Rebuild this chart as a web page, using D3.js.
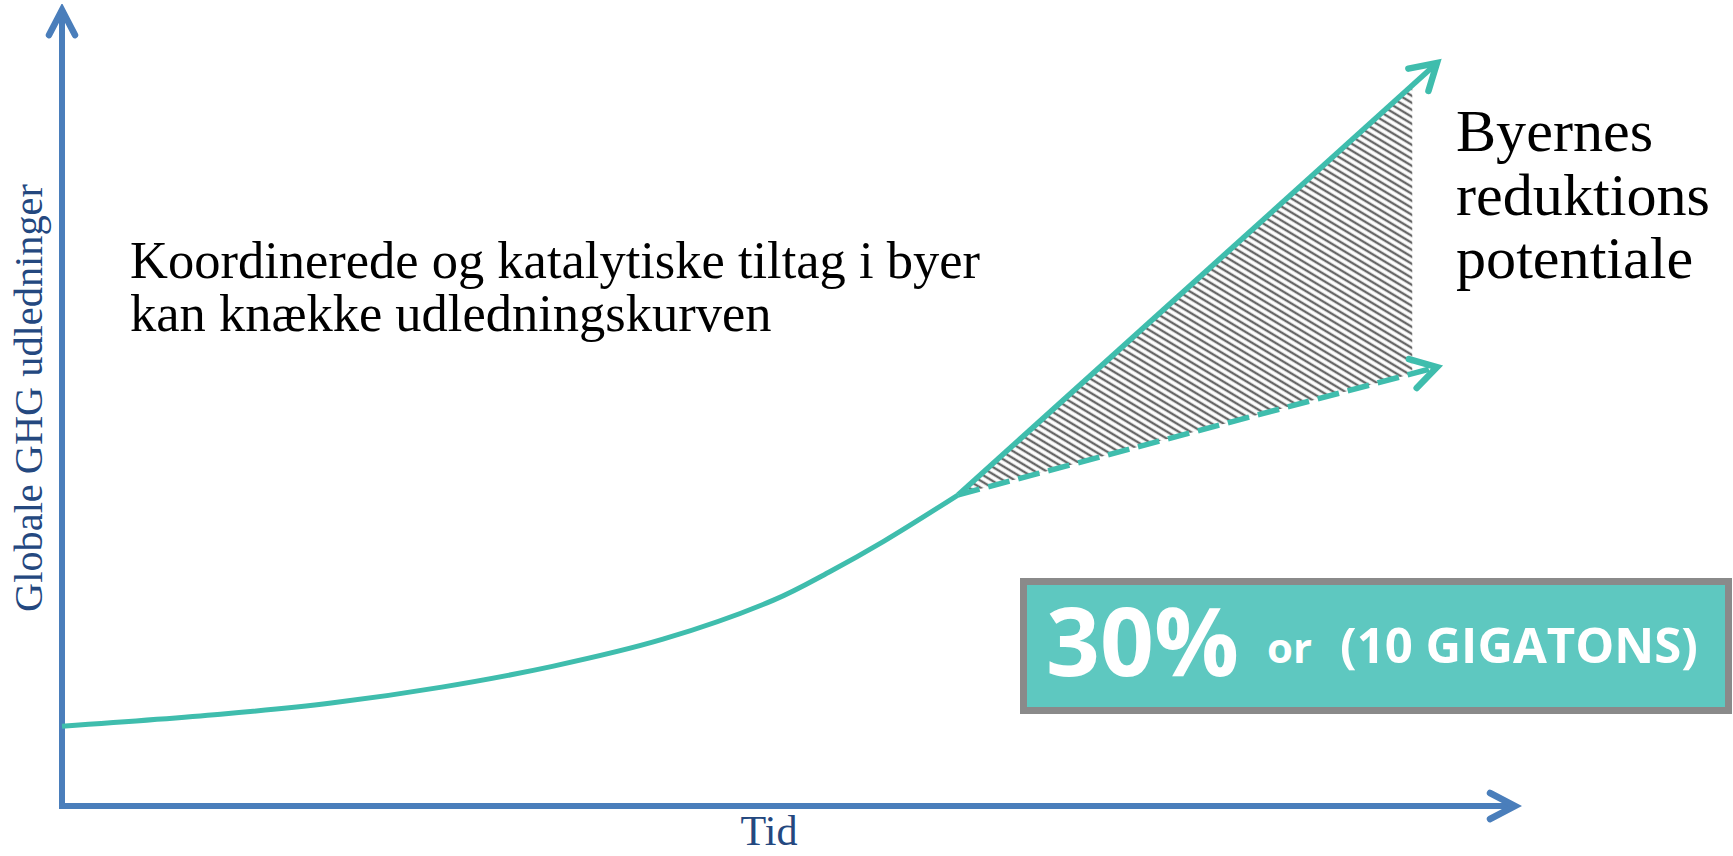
<!DOCTYPE html>
<html>
<head>
<meta charset="utf-8">
<script src="https://cdn.jsdelivr.net/npm/d3@7/dist/d3.min.js"></script>
<style>
  html, body { margin: 0; padding: 0; background: #fff; }
  svg { display: block; }
</style>
</head>
<body>
<svg id="chart" width="1733" height="856"></svg>
<script>
// ---- data (time index 0-100, emission index 0-100) ----
const curveTime      = [0, 10.9, 18.5, 26.1, 33.7, 41.3, 48.9, 52.7, 56.5, 61.6];
const curveEmission  = [10.0, 11.5, 12.9, 14.9, 17.5, 20.9, 25.8, 29.3, 33.2, 39.0];
const bauTime        = [61.6, 94.5];
const bauEmission    = [39.0, 93.1];
const reducedTime    = [61.6, 94.5];
const reducedEmission= [39.0, 55.0];
const hatchEndTime   = 92.8;

const titleLines  = ["Koordinerede og katalytiske tiltag i byer", "kan knække udledningskurven"];
const sideLines   = ["Byernes", "reduktions", "potentiale"];
const yLabel = "Globale GHG udledninger";
const xLabel = "Tid";
const boxBig = "30%", boxOr = "or", boxRest = "(10 GIGATONS)";

// ---- layout ----
const W = 1733, H = 856;
const x0 = 62, x1 = 1517, y0 = 806, y1 = 8;
const AXIS = "#4a7ebb", TEAL = "#3fbdad", LABEL = "#24487f";

const svg = d3.select("#chart");
const x = d3.scaleLinear().domain([0, 100]).range([x0, x1]);
const y = d3.scaleLinear().domain([0, 100]).range([y0, y1]);

const defs = svg.append("defs");
const pat = defs.append("pattern").attr("id", "hatch")
  .attr("patternUnits", "userSpaceOnUse").attr("width", 12).attr("height", 6)
  .attr("patternTransform", "rotate(31)");
pat.append("rect").attr("width", 12).attr("height", 6).attr("fill", "#fff");
pat.append("line").attr("x1", 0).attr("x2", 12).attr("y1", 3).attr("y2", 3)
  .attr("stroke", "#676767").attr("stroke-width", 2.4);

function chevron(id, color, len, half, sw) {
  const m = defs.append("marker").attr("id", id)
    .attr("markerUnits", "userSpaceOnUse")
    .attr("viewBox", `${-len - sw} ${-half - sw} ${len + 2 * sw} ${2 * half + 2 * sw}`)
    .attr("refX", 0).attr("refY", 0)
    .attr("markerWidth", len + 2 * sw).attr("markerHeight", 2 * half + 2 * sw)
    .attr("orient", "auto");
  m.append("path").attr("d", `M${-len},${-half} L0,0 L${-len},${half}`)
    .attr("fill", "none").attr("stroke", color).attr("stroke-width", sw)
    .attr("stroke-linecap", "round").attr("stroke-linejoin", "miter");
}
chevron("arrBlue", AXIS, 25, 13, 6.5);
chevron("arrTeal", TEAL, 25, 15, 6.5);

// ---- hatch area between scenarios ----
const bauAt = t => bauEmission[0] + (t - bauTime[0]) * (bauEmission[1] - bauEmission[0]) / (bauTime[1] - bauTime[0]);
const redAt = t => reducedEmission[0] + (t - reducedTime[0]) * (reducedEmission[1] - reducedEmission[0]) / (reducedTime[1] - reducedTime[0]);
const areaPts = [bauTime[0], hatchEndTime].map(t => ({ t, hi: bauAt(t), lo: redAt(t) }));
svg.append("path").datum(areaPts)
  .attr("d", d3.area().x(d => x(d.t)).y0(d => y(d.lo)).y1(d => y(d.hi)))
  .attr("fill", "url(#hatch)");

// ---- axes ----
svg.append("line").attr("x1", x0).attr("x2", x0).attr("y1", y0 + 3).attr("y2", y1 + 2)
  .attr("stroke", AXIS).attr("stroke-width", 6).attr("marker-end", "url(#arrBlue)");
svg.append("line").attr("x1", x0 - 3).attr("x2", x1 - 2).attr("y1", y0).attr("y2", y0)
  .attr("stroke", AXIS).attr("stroke-width", 6).attr("marker-end", "url(#arrBlue)");

// ---- emission curve ----
const curvePts = curveTime.map((t, i) => [t, curveEmission[i]]);
svg.append("path").datum(curvePts)
  .attr("d", d3.line().x(d => x(d[0])).y(d => y(d[1])).curve(d3.curveCatmullRom.alpha(0.5)))
  .attr("fill", "none").attr("stroke", TEAL).attr("stroke-width", 5);

// ---- scenario lines ----
const seg = (ts, es) => ts.map((t, i) => [t, es[i]]);
svg.append("path").datum(seg(reducedTime, reducedEmission))
  .attr("d", d3.line().x(d => x(d[0])).y(d => y(d[1])))
  .attr("fill", "none").attr("stroke", TEAL).attr("stroke-width", 5.5)
  .attr("stroke-dasharray", "22 9").attr("marker-end", "url(#arrTeal)");
svg.append("path").datum(seg(bauTime, bauEmission))
  .attr("d", d3.line().x(d => x(d[0])).y(d => y(d[1])))
  .attr("fill", "none").attr("stroke", TEAL).attr("stroke-width", 5.5)
  .attr("marker-end", "url(#arrTeal)");

// ---- helper: fit text to a target width ----
function fit(sel, target) {
  const w = sel.node().getComputedTextLength();
  const fs = parseFloat(sel.attr("font-size"));
  sel.attr("font-size", fs * target / w);
  return sel;
}

const SERIF = "'Liberation Serif', 'DejaVu Serif', serif";

// title
const t1 = svg.append("text").attr("x", 130).attr("y", 278).attr("font-family", SERIF)
  .attr("font-size", 46).attr("fill", "#000").text(titleLines[0]);
fit(t1, 850);
svg.append("text").attr("x", 130).attr("y", 331).attr("font-family", SERIF)
  .attr("font-size", t1.attr("font-size")).attr("fill", "#000").text(titleLines[1]);

// side text
const sideBase = [151, 215, 278];
const sTmp = svg.append("text").attr("font-family", SERIF).attr("font-size", 46).text(sideLines[1]);
fit(sTmp, 254);
const sideFs = sTmp.attr("font-size"); sTmp.remove();
sideLines.forEach((s, i) => {
  svg.append("text").attr("x", 1456).attr("y", sideBase[i]).attr("font-family", SERIF)
    .attr("font-size", sideFs).attr("fill", "#000").text(s);
});

// axis labels
const yl = svg.append("text").attr("transform", "translate(42,398) rotate(-90)")
  .attr("text-anchor", "middle").attr("font-family", SERIF).attr("font-size", 32)
  .attr("fill", LABEL).text(yLabel);
fit(yl, 428);
const xl = svg.append("text").attr("x", 769).attr("y", 845).attr("text-anchor", "middle")
  .attr("font-family", SERIF).attr("font-size", 38).attr("fill", LABEL).text(xLabel);
fit(xl, 57);

// ---- callout box ----
svg.append("rect").attr("x", 1023.5).attr("y", 581.5).attr("width", 705).attr("height", 129)
  .attr("fill", "#5ec8c0").attr("stroke", "#8a8a8a").attr("stroke-width", 7);
const SANS = "'Open Sans', 'Lato', sans-serif";
const b1 = svg.append("text").attr("x", 1046).attr("y", 676).attr("font-family", SANS)
  .attr("font-weight", 700).attr("font-size", 86).attr("fill", "#fff").text(boxBig);
fit(b1, 193);
const b2 = svg.append("text").attr("x", 1267).attr("y", 663).attr("font-family", SANS)
  .attr("font-weight", 700).attr("font-size", 40).attr("fill", "#fff").text(boxOr);
fit(b2, 45);
const b3 = svg.append("text").attr("x", 1340).attr("y", 663).attr("font-family", SANS)
  .attr("font-weight", 700).attr("font-size", 40).attr("fill", "#fff").text(boxRest);
fit(b3, 358);
</script>
</body>
</html>
